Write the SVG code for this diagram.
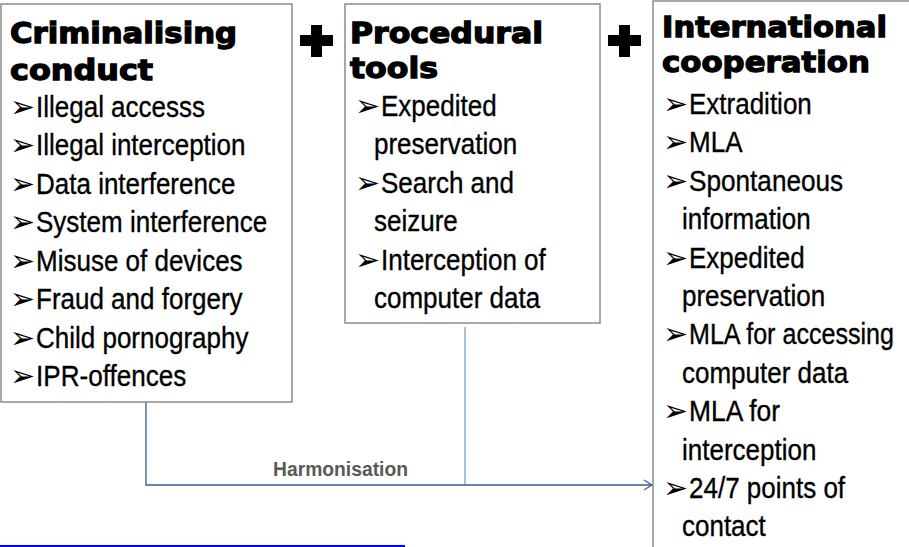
<svg xmlns="http://www.w3.org/2000/svg" width="909" height="547" viewBox="0 0 909 547">
  <style>
    .box { fill: #ffffff; stroke: #8c8c8c; stroke-width: 1.5; }
    .head { font-family: "DejaVu Sans", "Liberation Sans", sans-serif; font-weight: bold; font-size: 29px; fill: #000; stroke: #000; stroke-width: 1.3; }
    .item { font-family: "Liberation Sans", Arial, sans-serif; font-size: 30px; fill: #000; stroke: #000; stroke-width: 0.35; }
    .bul { font-family: "DejaVu Sans", sans-serif; font-size: 30px; stroke-width: 0; }
    .plus { fill: #000; }
    .label { font-family: "Liberation Sans", Arial, sans-serif; font-weight: bold; font-size: 20px; fill: #595959; }
  </style>
  <defs>
    <marker id="open-arrow" markerWidth="12" markerHeight="12" refX="10" refY="6" orient="auto" markerUnits="userSpaceOnUse">
      <path d="M2,1 L10,6 L2,11" fill="none" stroke="#3b5b98" stroke-width="1.2"/>
    </marker>
  </defs>

  <!-- connectors -->
  <g id="connectors" fill="none">
    <line x1="465" y1="327" x2="465" y2="485" stroke="#8eaadb" stroke-width="1.5"/>
    <polyline points="146,402 146,485 652,485" stroke="#3b5b98" stroke-width="1.3" marker-end="url(#open-arrow)"/>
    <text class="label" x="273" y="476" textLength="135" lengthAdjust="spacingAndGlyphs">Harmonisation</text>
  </g>

  <!-- left column: substantive offences -->
  <g id="criminalising">
    <rect class="box" x="1" y="4" width="291" height="398"/>
    <text class="head" x="10" y="43" textLength="227" lengthAdjust="spacingAndGlyphs">Criminalising</text>
    <text class="head" x="10" y="80" textLength="143" lengthAdjust="spacingAndGlyphs">conduct</text>
    <text class="item" y="116.5"><tspan class="bul" x="10">➢</tspan><tspan x="36" textLength="169" lengthAdjust="spacingAndGlyphs">Illegal accesss</tspan></text>
    <text class="item" y="155"><tspan class="bul" x="10">➢</tspan><tspan x="36" textLength="209.5" lengthAdjust="spacingAndGlyphs">Illegal interception</tspan></text>
    <text class="item" y="193.5"><tspan class="bul" x="10">➢</tspan><tspan x="36" textLength="199.4" lengthAdjust="spacingAndGlyphs">Data interference</tspan></text>
    <text class="item" y="232"><tspan class="bul" x="10">➢</tspan><tspan x="36" textLength="231.2" lengthAdjust="spacingAndGlyphs">System interference</tspan></text>
    <text class="item" y="270.5"><tspan class="bul" x="10">➢</tspan><tspan x="36" textLength="206.6" lengthAdjust="spacingAndGlyphs">Misuse of devices</tspan></text>
    <text class="item" y="309"><tspan class="bul" x="10">➢</tspan><tspan x="36" textLength="206.6" lengthAdjust="spacingAndGlyphs">Fraud and forgery</tspan></text>
    <text class="item" y="347.5"><tspan class="bul" x="10">➢</tspan><tspan x="36" textLength="212.4" lengthAdjust="spacingAndGlyphs">Child pornography</tspan></text>
    <text class="item" y="386"><tspan class="bul" x="10">➢</tspan><tspan x="36" textLength="150.3" lengthAdjust="spacingAndGlyphs">IPR-offences</tspan></text>
  </g>

  <g id="plus-1">
    <path class="plus" d="M311,25 H322 V35 H333 V46 H322 V57 H311 V46 H300 V35 H311 Z"/>
  </g>

  <!-- middle column: procedural law -->
  <g id="procedural">
    <rect class="box" x="345" y="4" width="255" height="319"/>
    <text class="head" x="350" y="43" textLength="193" lengthAdjust="spacingAndGlyphs">Procedural</text>
    <text class="head" x="350" y="78" textLength="88" lengthAdjust="spacingAndGlyphs">tools</text>
    <text class="item" y="115.5"><tspan class="bul" x="355">➢</tspan><tspan x="381" textLength="115.6" lengthAdjust="spacingAndGlyphs">Expedited</tspan></text>
    <text class="item" x="374" y="154" textLength="143.1" lengthAdjust="spacingAndGlyphs">preservation</text>
    <text class="item" y="192.5"><tspan class="bul" x="355">➢</tspan><tspan x="381" textLength="133" lengthAdjust="spacingAndGlyphs">Search and</tspan></text>
    <text class="item" x="374" y="231" textLength="83.8" lengthAdjust="spacingAndGlyphs">seizure</text>
    <text class="item" y="269.5"><tspan class="bul" x="355">➢</tspan><tspan x="381" textLength="164.8" lengthAdjust="spacingAndGlyphs">Interception of</tspan></text>
    <text class="item" x="374" y="308" textLength="166.2" lengthAdjust="spacingAndGlyphs">computer data</text>
  </g>

  <g id="plus-2">
    <path class="plus" d="M619,25 H630 V35 H641 V46 H630 V57 H619 V46 H608 V35 H619 Z"/>
  </g>

  <!-- right column: cooperation, open at the right and bottom page edges -->
  <g id="international">
    <rect x="653" y="1" width="256" height="546" fill="#ffffff"/>
    <path d="M909,1 H653 V547" fill="none" stroke="#8c8c8c" stroke-width="1.5"/>
    <text class="head" x="662" y="37" textLength="225" lengthAdjust="spacingAndGlyphs">International</text>
    <text class="head" x="662" y="72" textLength="208" lengthAdjust="spacingAndGlyphs">cooperation</text>
    <text class="item" y="114"><tspan class="bul" x="663">➢</tspan><tspan x="689" textLength="122.8" lengthAdjust="spacingAndGlyphs">Extradition</tspan></text>
    <text class="item" y="152.4"><tspan class="bul" x="663">➢</tspan><tspan x="689" textLength="53.5" lengthAdjust="spacingAndGlyphs">MLA</tspan></text>
    <text class="item" y="190.8"><tspan class="bul" x="663">➢</tspan><tspan x="689" textLength="154.2" lengthAdjust="spacingAndGlyphs">Spontaneous</tspan></text>
    <text class="item" x="682" y="229.2" textLength="128.6" lengthAdjust="spacingAndGlyphs">information</text>
    <text class="item" y="267.6"><tspan class="bul" x="663">➢</tspan><tspan x="689" textLength="115.6" lengthAdjust="spacingAndGlyphs">Expedited</tspan></text>
    <text class="item" x="682" y="306" textLength="143.1" lengthAdjust="spacingAndGlyphs">preservation</text>
    <text class="item" y="344.4"><tspan class="bul" x="663">➢</tspan><tspan x="689" textLength="205" lengthAdjust="spacingAndGlyphs">MLA for accessing</tspan></text>
    <text class="item" x="682" y="382.8" textLength="166.2" lengthAdjust="spacingAndGlyphs">computer data</text>
    <text class="item" y="421.2"><tspan class="bul" x="663">➢</tspan><tspan x="689" textLength="91" lengthAdjust="spacingAndGlyphs">MLA for</tspan></text>
    <text class="item" x="682" y="459.6" textLength="134.4" lengthAdjust="spacingAndGlyphs">interception</text>
    <text class="item" y="498"><tspan class="bul" x="663">➢</tspan><tspan x="689" textLength="156.1" lengthAdjust="spacingAndGlyphs">24/7 points of</tspan></text>
    <text class="item" x="682" y="536.4" textLength="83.8" lengthAdjust="spacingAndGlyphs">contact</text>
  </g>

  <!-- underline along the foot of the page -->
  <line x1="0" y1="546" x2="405" y2="546" stroke="#0000ff" stroke-width="2"/>
</svg>
